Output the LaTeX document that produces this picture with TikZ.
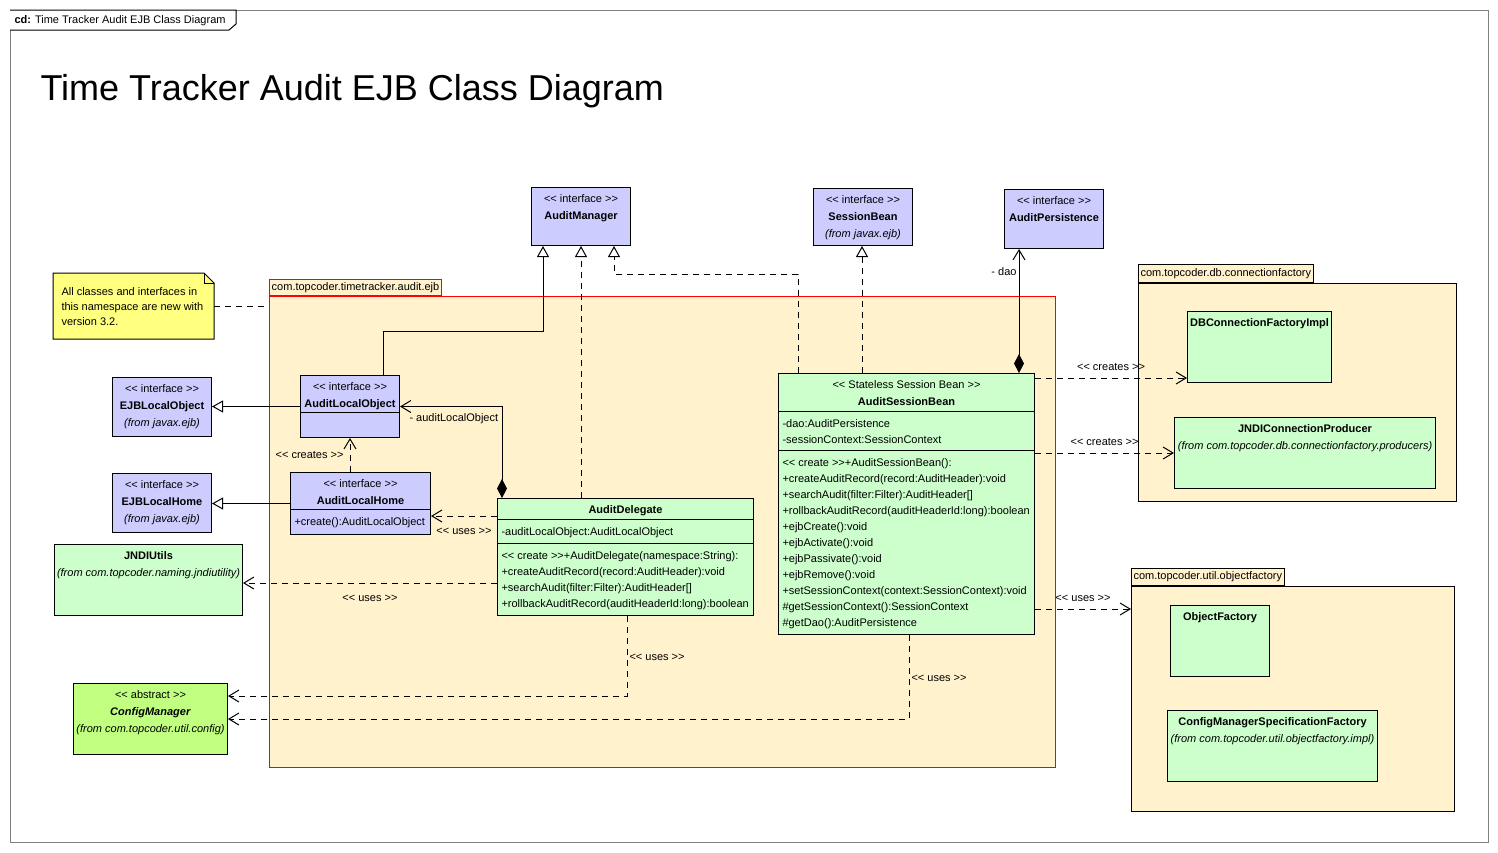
\documentclass[tikz,border=0pt]{standalone}
\usepackage{fontspec}
\setmainfont{Liberation Sans}
\usetikzlibrary{arrows.meta, positioning}

\definecolor{ifblue}{RGB}{204,204,255}
\definecolor{clsgreen}{RGB}{204,255,204}
\definecolor{absgreen}{RGB}{192,255,128}
\definecolor{pkgcream}{RGB}{255,242,204}
\definecolor{noteyellow}{RGB}{255,255,128}

\newcommand\umlfont{\fontsize{11}{17}\selectfont}
\newcommand\memfont{\fontsize{11}{16}\selectfont}
\newcommand\notefont{\fontsize{11}{15}\selectfont}
\newcommand\hs{\rule[-5pt]{0pt}{17pt}}
\newcommand\ms{\rule[-4pt]{0pt}{16pt}}
\newcommand\ns{\rule[-4pt]{0pt}{15pt}}
\newcommand\stereo[1]{<{}< #1 >{}>}

\begin{document}
\begin{tikzpicture}[x=1pt, y=-1pt, line width=1pt,
 cls/.style={draw, fill=clsgreen, inner sep=0pt, anchor=north west},
 iface/.style={cls, fill=ifblue},
 hdr/.style={anchor=north, inner xsep=0pt, inner ysep=3pt, align=center, font=\umlfont},
 mem/.style={anchor=north west, inner xsep=4pt, inner ysep=4pt, align=left, font=\memfont},
 pkg/.style={draw, fill=pkgcream, inner sep=0pt, anchor=north west},
 pkgtab/.style={draw, fill=pkgcream, inner xsep=2pt, inner ysep=0pt, anchor=south west, font=\umlfont},
 lbl/.style={font=\umlfont, inner sep=2pt},
 umldash/.style={dash pattern=on 6pt off 5pt},
 realize/.style={-{Triangle[open, length=11pt, width=12pt]}},
 dep/.style={umldash, -{Straight Barb[length=10pt, width=12pt]}},
 comp/.style={{Diamond[length=19pt, width=10pt]}-{Straight Barb[length=10pt, width=12pt]}}]

 \path[use as bounding box, fill=white] (0,0) rectangle (1498,852);

 % frame and title
 \node[draw=gray, inner sep=0pt, anchor=north west, minimum width=1478, minimum height=832] (frame) at (10,10) {};
 \draw[fill=white] (frame.north west) -- ++(226,0) -- ++(0,14) -- ++(-7,6) -- ++(-219,0);
 \node[anchor=west, inner sep=0pt, font=\umlfont] (frame-lbl) at ([xshift=4,yshift=-11]frame.north west) {\textbf{cd:} Time Tracker Audit EJB Class Diagram};
 \node[anchor=base west, inner sep=0pt, font=\fontsize{36}{40}\selectfont] (title) at (40,100) {Time Tracker Audit EJB Class Diagram};

 % packages
 \node[pkg, draw=red, minimum width=786, minimum height=471] (pejb) at (269,296) {};
 \node[pkgtab, draw=red, minimum height=16, minimum width=172] (pejb-tab) at (pejb.north west) {com.topcoder.timetracker.audit.ejb};
 \node[pkg, minimum width=318, minimum height=218] (pdb) at (1138,283) {};
 \node[pkgtab, minimum height=18, minimum width=174] (pdb-tab) at (pdb.north west) {com.topcoder.db.connectionfactory};
 \node[pkg, minimum width=323, minimum height=225] (pof) at (1131,586) {};
 \node[pkgtab, minimum height=17, minimum width=152] (pof-tab) at (pof.north west) {com.topcoder.util.objectfactory};

 % note
 \node[inner sep=0pt, anchor=north west, minimum width=160, minimum height=65] (note) at (53,273) {};
 \filldraw[fill=noteyellow] (note.north west) -- ([xshift=-10]note.north east) -- ([yshift=-10]note.north east) -- (note.south east) -- (note.south west) -- cycle;
 \draw ([xshift=-10]note.north east) |- ([yshift=-10]note.north east);
 \node[anchor=north west, inner sep=0pt, align=left, font=\notefont] (note-txt) at ([xshift=8,yshift=-11]note.north west) {\ns All classes and interfaces in\\\ns this namespace are new with\\\ns version 3.2.};

 % interfaces
 \node[iface, minimum width=99, minimum height=58] (am) at (531,187) {};
 \node[hdr] (am-h) at (am.north) {\hs\stereo{interface}\\\hs\textbf{AuditManager}};
 \node[iface, minimum width=99, minimum height=57] (sb) at (813,188) {};
 \node[hdr] (sb-h) at (sb.north) {\hs\stereo{interface}\\\hs\textbf{SessionBean}\\\hs\textit{(from javax.ejb)}};
 \node[iface, minimum width=99, minimum height=59] (ap) at (1004,189) {};
 \node[hdr] (ap-h) at (ap.north) {\hs\stereo{interface}\\\hs\textbf{AuditPersistence}};
 \node[iface, minimum width=99, minimum height=59] (ejbo) at (112,377) {};
 \node[hdr] (ejbo-h) at (ejbo.north) {\hs\stereo{interface}\\\hs\textbf{EJBLocalObject}\\\hs\textit{(from javax.ejb)}};
 \node[iface, minimum width=99, minimum height=59] (ejbh) at (112,473) {};
 \node[hdr] (ejbh-h) at (ejbh.north) {\hs\stereo{interface}\\\hs\textbf{EJBLocalHome}\\\hs\textit{(from javax.ejb)}};
 \node[iface, minimum width=99, minimum height=62] (alo) at (300,375) {};
 \node[hdr] (alo-h) at (alo.north) {\hs\stereo{interface}\\\hs\textbf{AuditLocalObject}};
 \draw ([yshift=-37]alo.north west) -- ([yshift=-37]alo.north east);
 \node[iface, minimum width=140, minimum height=62] (alh) at (290,472) {};
 \node[hdr] (alh-h) at (alh.north) {\hs\stereo{interface}\\\hs\textbf{AuditLocalHome}};
 \draw ([yshift=-37]alh.north west) -- ([yshift=-37]alh.north east);
 \node[mem] (alh-m) at ([yshift=-37]alh.north west) {\ms+create():AuditLocalObject};

 % outside classes
 \node[cls, minimum width=188, minimum height=71] (jndi) at (54,544) {};
 \node[hdr] (jndi-h) at (jndi.north) {\hs\textbf{JNDIUtils}\\\hs\textit{(from com.topcoder.naming.jndiutility)}};
 \node[cls, fill=absgreen, minimum width=154, minimum height=71] (cm) at (73,683) {};
 \node[hdr] (cm-h) at (cm.north) {\hs\stereo{abstract}\\\hs\textbf{\textit{ConfigManager}}\\\hs\textit{(from com.topcoder.util.config)}};
 \node[cls, minimum width=144, minimum height=71] (dbcf) at (1187,311) {};
 \node[hdr] (dbcf-h) at (dbcf.north) {\hs\textbf{DBConnectionFactoryImpl}};
 \node[cls, minimum width=261, minimum height=71] (jcp) at (1174,417) {};
 \node[hdr] (jcp-h) at (jcp.north) {\hs\textbf{JNDIConnectionProducer}\\\hs\textit{(from com.topcoder.db.connectionfactory.producers)}};
 \node[cls, minimum width=99, minimum height=71] (of) at (1170,605) {};
 \node[hdr] (of-h) at (of.north) {\hs\textbf{ObjectFactory}};
 \node[cls, minimum width=210, minimum height=71] (cmsf) at (1167,710) {};
 \node[hdr] (cmsf-h) at (cmsf.north) {\hs\textbf{ConfigManagerSpecificationFactory}\\\hs\textit{(from com.topcoder.util.objectfactory.impl)}};

 % AuditDelegate
 \node[cls, minimum width=256, minimum height=117] (ad) at (497,498) {};
 \node[hdr] (ad-h) at (ad.north) {\hs\textbf{AuditDelegate}};
 \draw ([yshift=-21]ad.north west) -- ([yshift=-21]ad.north east);
 \draw ([yshift=-45]ad.north west) -- ([yshift=-45]ad.north east);
 \node[mem] (ad-a) at ([yshift=-21]ad.north west) {\ms-auditLocalObject:AuditLocalObject};
 \node[mem] (ad-m) at ([yshift=-45]ad.north west) {\ms\stereo{create}+AuditDelegate(namespace:String):\\
  \ms+createAuditRecord(record:AuditHeader):void\\
  \ms+searchAudit(filter:Filter):AuditHeader[]\\
  \ms+rollbackAuditRecord(auditHeaderId:long):boolean};

 % AuditSessionBean
 \node[cls, minimum width=256, minimum height=261] (asb) at (778,373) {};
 \node[hdr] (asb-h) at (asb.north) {\hs\stereo{Stateless Session Bean}\\\hs\textbf{AuditSessionBean}};
 \draw ([yshift=-38]asb.north west) -- ([yshift=-38]asb.north east);
 \draw ([yshift=-77]asb.north west) -- ([yshift=-77]asb.north east);
 \node[mem] (asb-a) at ([yshift=-38]asb.north west) {\ms-dao:AuditPersistence\\\ms-sessionContext:SessionContext};
 \node[mem] (asb-m) at ([yshift=-77]asb.north west) {\ms\stereo{create}+AuditSessionBean():\\
  \ms+createAuditRecord(record:AuditHeader):void\\
  \ms+searchAudit(filter:Filter):AuditHeader[]\\
  \ms+rollbackAuditRecord(auditHeaderId:long):boolean\\
  \ms+ejbCreate():void\\
  \ms+ejbActivate():void\\
  \ms+ejbPassivate():void\\
  \ms+ejbRemove():void\\
  \ms+setSessionContext(context:SessionContext):void\\
  \ms\#getSessionContext():SessionContext\\
  \ms\#getDao():AuditPersistence};

 % realizations and generalizations
 \draw[realize] ([xshift=83]alo.north west) -- ++(0,-44) -| ([xshift=12]am.south west);
 \draw[realize, umldash] ([xshift=84]ad.north west) -- ([xshift=50]am.south west);
 \draw[realize, umldash] ([xshift=20]asb.north west) -- ++(0,-99) -| ([xshift=83]am.south west);
 \draw[realize, umldash] ([xshift=84]asb.north west) -- ([xshift=49]sb.south west);
 \draw[realize] (alo.west) -- (alo.west -| ejbo.east);
 \draw[realize] (alh.west) -- (alh.west -| ejbh.east);

 % compositions
 \draw[comp] ([xshift=241]asb.north west) -- node[lbl, left, pos=0.82] {- dao} ([xshift=15]ap.south west);
 \draw[comp] ([xshift=5]ad.north west) |- node[lbl, anchor=north west, pos=1, xshift=7pt, yshift=-5pt] {- auditLocalObject} (alo.east);

 % dependencies
 \draw[dep] ([xshift=60]alh.north west) -- node[lbl, left=4pt] {\stereo{creates}} ([xshift=50]alo.south west);
 \draw[dep] ([yshift=-18]ad.north west) -- node[lbl, below=10pt] {\stereo{uses}} ([yshift=-44]alh.north east);
 \draw[dep] ([yshift=-85]ad.north west) -- node[lbl, below=10pt] {\stereo{uses}} ([yshift=-39]jndi.north east);
 \draw[dep] ([xshift=130]ad.south west) |- node[lbl, right, pos=0.26] {\stereo{uses}} ([yshift=-13]cm.north east);
 \draw[dep] ([xshift=131]asb.south west) |- node[lbl, right, pos=0.26] {\stereo{uses}} ([yshift=-36]cm.north east);
 \draw[dep] ([yshift=-5]asb.north east) -- node[lbl, above=5pt] {\stereo{creates}} ([yshift=-67]dbcf.north west);
 \draw[dep] ([yshift=-80]asb.north east) -- node[lbl, above=5pt] {\stereo{creates}} ([yshift=-36]jcp.north west);
 \draw[dep] ([yshift=-236]asb.north east) -- node[lbl, above=5pt] {\stereo{uses}} ([yshift=-23]pof.north west);
 \draw[umldash] (note.east) -- (note.east -| pejb.west);
\end{tikzpicture}
\end{document}
